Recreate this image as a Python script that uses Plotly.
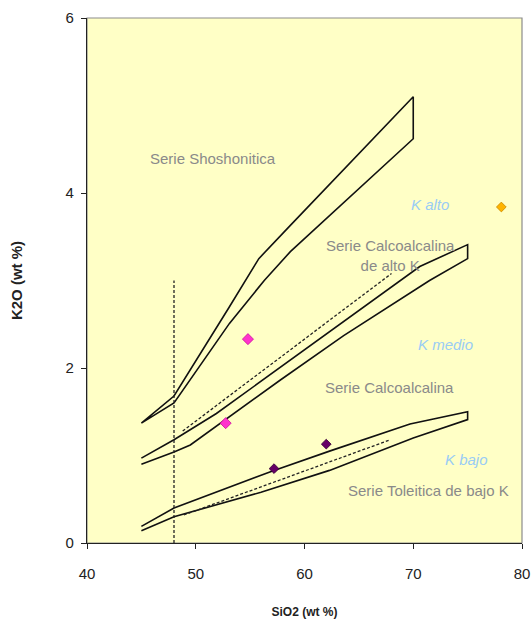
import plotly.graph_objects as go

# ---- data ----
# Shoshonitic band boundaries
sho_upper_x = [45, 48, 53.1, 55.8, 58.7, 70]
sho_upper_y = [1.37, 1.68, 2.70, 3.25, 3.63, 5.10]
sho_lower_x = [45, 48, 53.1, 56.3, 58.7, 70]
sho_lower_y = [1.37, 1.60, 2.51, 3.00, 3.33, 4.62]

# High-K calc-alkaline boundary band
hk_upper_x = [45, 48, 51.9, 58.7, 70.6, 75]
hk_upper_y = [0.97, 1.18, 1.48, 2.09, 3.16, 3.41]
hk_lower_x = [45, 48, 49.5, 57.75, 63.6, 71.5, 75]
hk_lower_y = [0.90, 1.04, 1.12, 1.86, 2.37, 3.00, 3.25]
hk_dash_x = [48.8, 68.0]
hk_dash_y = [1.28, 3.08]

# Low-K boundary band
lk_upper_x = [45, 48, 57, 62.3, 69.7, 75]
lk_upper_y = [0.19, 0.40, 0.82, 1.05, 1.36, 1.50]
lk_lower_x = [45, 48, 56, 62.3, 70, 75]
lk_lower_y = [0.14, 0.30, 0.58, 0.83, 1.20, 1.41]
lk_dash_x = [48.9, 67.9]
lk_dash_y = [0.32, 1.18]

# vertical dashed line
vline_x = [48, 48]
vline_y = [0, 3.0]

# samples
pink_x = [54.8, 52.75]
pink_y = [2.33, 1.37]
purple_x = [57.2, 62.0]
purple_y = [0.85, 1.13]
orange_x = [78.1]
orange_y = [3.84]

# labels
label_texts = ["Serie Shoshonitica", "Serie Calcoalcalina<br>de alto K", "Serie Calcoalcalina",
               "Serie Toleitica de bajo K"]
label_x = [51.6, 67.95, 67.86, 71.38]
label_y = [4.39, 3.29, 1.78, 0.60]
klabel_texts = ["K alto", "K medio", "K bajo"]
klabel_x = [71.5, 73.0, 74.9]
klabel_y = [3.87, 2.27, 0.95]

x_ticks = [40, 50, 60, 70, 80]
y_ticks = [0, 2, 4, 6]

FONT = "Liberation Sans, Arial, sans-serif"
fig = go.Figure()

def band(ux, uy, lx, ly):
    return ux + lx[::-1], uy + ly[::-1]

for (ux, uy, lx, ly) in [(sho_upper_x, sho_upper_y, sho_lower_x, sho_lower_y),
                         (hk_upper_x, hk_upper_y, hk_lower_x, hk_lower_y),
                         (lk_upper_x, lk_upper_y, lk_lower_x, lk_lower_y)]:
    bx, by = band(ux, uy, lx, ly)
    fig.add_trace(go.Scatter(x=bx, y=by, mode="lines",
                             line=dict(color="#111111", width=1.6),
                             showlegend=False, hoverinfo="skip"))

for dx, dy in [(hk_dash_x, hk_dash_y), (lk_dash_x, lk_dash_y), (vline_x, vline_y)]:
    fig.add_trace(go.Scatter(x=dx, y=dy, mode="lines",
                             line=dict(color="#222222", width=1.3, dash="3px,2px"),
                             showlegend=False, hoverinfo="skip"))

fig.add_trace(go.Scatter(x=pink_x, y=pink_y, mode="markers",
                         marker=dict(symbol="diamond", size=8.5, color="#FF33CC",
                                     line=dict(color="#CC1199", width=0.8)),
                         showlegend=False))
fig.add_trace(go.Scatter(x=purple_x, y=purple_y, mode="markers",
                         marker=dict(symbol="diamond", size=7.5, color="#660066",
                                     line=dict(color="#330033", width=0.8)),
                         showlegend=False))
fig.add_trace(go.Scatter(x=orange_x, y=orange_y, mode="markers",
                         marker=dict(symbol="diamond", size=7.5, color="#FFB400",
                                     line=dict(color="#C88A00", width=0.8)),
                         showlegend=False))

for t, x, y in zip(label_texts, label_x, label_y):
    fig.add_annotation(x=x, y=y, text=t, showarrow=False,
                       font=dict(family=FONT, size=15, color="#8A8A8A"))
for t, x, y in zip(klabel_texts, klabel_x, klabel_y):
    fig.add_annotation(x=x, y=y, text="<i>" + t + "</i>", showarrow=False,
                       font=dict(family=FONT, size=15, color="#99CCF5"))

# gray frame (top & right visible)
fig.add_shape(type="rect", xref="paper", yref="paper", x0=0, y0=0, x1=1, y1=1,
              line=dict(color="#8C8C8C", width=1.2), layer="below")

fig.update_layout(
    width=531, height=619,
    margin=dict(l=87, r=9, t=18, b=76),
    paper_bgcolor="white",
    plot_bgcolor="#FFFFC6",
    font=dict(family=FONT, size=15, color="#222222"),
    xaxis=dict(range=[40, 80], tickvals=x_ticks, showgrid=False, zeroline=False,
               showline=True, linecolor="#222222", linewidth=1.2,
               ticks="outside", ticklen=5, tickcolor="#222222",
               ticklabelstandoff=12, automargin=False,
               title=dict(text="<b>SiO2 (wt %)</b>", font=dict(size=12), standoff=29)),
    yaxis=dict(range=[0, 6], tickvals=y_ticks, showgrid=False, zeroline=False,
               showline=True, linecolor="#222222", linewidth=1.2,
               ticks="outside", ticklen=5, tickcolor="#222222",
               ticklabelstandoff=4, automargin=False,
               title=dict(text="<b>K2O (wt %)</b>", font=dict(size=15), standoff=39)),
)

fig.write_html("out.html")
